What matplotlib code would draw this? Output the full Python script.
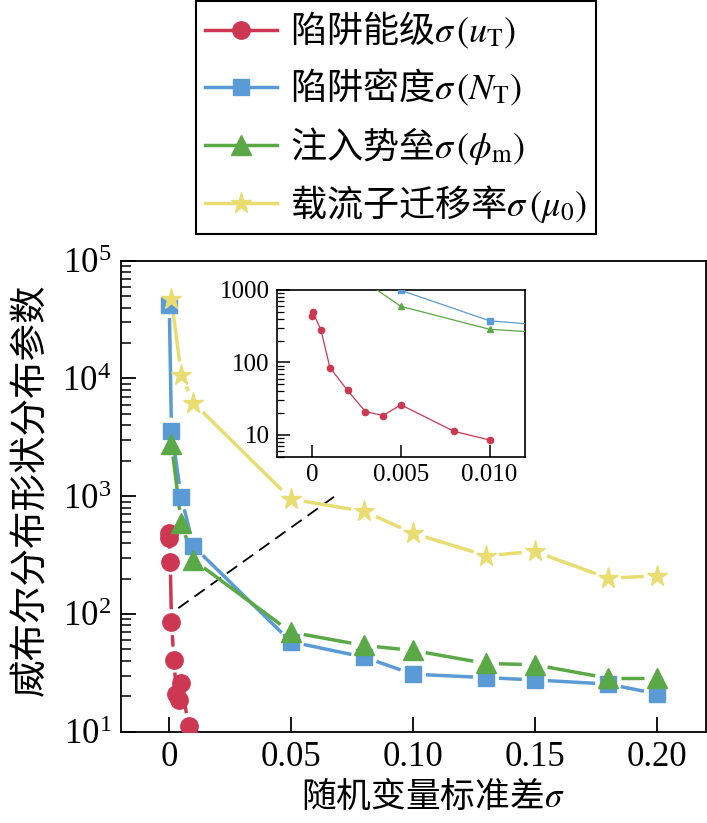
import numpy as np
import matplotlib.pyplot as plt
from matplotlib.lines import Line2D
from matplotlib.ticker import LogLocator, NullFormatter

plt.rcParams['font.family'] = ['Liberation Serif', 'Noto Sans CJK SC']
plt.rcParams['mathtext.fontset'] = 'stix'

# data
x_ut = [0.00001, 0.00005, 0.0005, 0.001, 0.002, 0.003, 0.004, 0.005, 0.008, 0.010]
y_ut = [440, 490, 278, 85, 41, 21, 18.5, 26, 11.2, 8.5]

x_nt = [0.0001, 0.001, 0.005, 0.01, 0.05, 0.08, 0.10, 0.13, 0.15, 0.18, 0.20]
y_nt = [42000, 3600, 990, 376, 58, 43, 30.8, 28.8, 27.5, 25.4, 21]

x_phi = [0.001, 0.005, 0.01, 0.05, 0.08, 0.10, 0.13, 0.15, 0.18, 0.20]
y_phi = [2800, 595, 287, 70, 54, 49, 38, 37, 28.5, 28.5]

x_mu = [0.001, 0.005, 0.01, 0.05, 0.08, 0.10, 0.13, 0.15, 0.18, 0.20]
y_mu = [46900, 10800, 6200, 946, 743, 486, 312, 340, 201, 211]

labels = [r'陷阱能级$\sigma\,(u_{\mathrm{T}})$',
          r'陷阱密度$\sigma\,(N_{\mathrm{T}})$',
          r'注入势垒$\sigma\,(\phi_{\mathrm{m}})$',
          r'载流子迁移率$\sigma\,(\mu_{0})$']
colors = ['#cd3752', '#5b9bd5', '#5aa846', '#e9dd72']
markers = ['o', 's', '^', '*']
msizes = [12.5, 11, 14, 15.5]

main_xticks = [0, 0.05, 0.10, 0.15, 0.20]
main_xticklabels = ['0', '0.05', '0.10', '0.15', '0.20']
inset_xticks = [0, 0.005, 0.010]
inset_xticklabels = ['0', '0.005', '0.010']
inset_yticks = [10, 100, 1000]
inset_yticklabels = ['10', '100', '1000']

# dashed guide line from zoomed region to the inset
guide_x = [0.0038, 0.070]
guide_y = [112, 1070]

series = [(x_ut, y_ut), (x_nt, y_nt), (x_phi, y_phi), (x_mu, y_mu)]
cjk = 'Noto Sans CJK SC'

fig = plt.figure(figsize=(7.07, 8.23), dpi=100)
ax = fig.add_axes([121 / 707, 1 - 731.7 / 823, 585 / 707, 471 / 823])
ax.set_yscale('log')
ax.set_xlim(-0.0197, 0.2202)
ax.set_ylim(10, 1e5)


def gapped_line(ax, xs, ys, color, lw, gap, z):
    # line segments stop short of the symbols, like the original
    pts = ax.transData.transform(np.column_stack([xs, ys]))
    inv = ax.transData.inverted()
    for p0, p1 in zip(pts[:-1], pts[1:]):
        d = p1 - p0
        length = np.hypot(*d)
        if length <= 2 * gap:
            continue
        u = d / length
        seg = inv.transform([p0 + u * gap, p1 - u * gap])
        ax.plot(seg[:, 0], seg[:, 1], color=color, lw=lw, zorder=z,
                solid_capstyle='butt')


for i, (xs, ys) in enumerate(series):
    gapped_line(ax, xs, ys, colors[i], 2.5, 13, 2 + i)
    ax.plot(xs, ys, ls='none', marker=markers[i], ms=msizes[i],
            color=colors[i], mec=colors[i], zorder=6 + i)

ax.plot(guide_x, guide_y, color='black', lw=1.3, ls='--', dashes=(7, 4), zorder=1)

ax.set_xticks(main_xticks, labels=main_xticklabels)
ax.tick_params(which='major', direction='in', length=10.5, width=1.3,
               labelsize=25, pad=7, top=False, right=False)
ax.tick_params(which='minor', direction='in', length=7, width=1.1,
               top=False, right=False)
for s in ax.spines.values():
    s.set_linewidth(1.3)

ax.set_xlabel(r'随机变量标准差$\sigma$', fontsize=25, family=cjk)
ax.xaxis.set_label_coords(0.533, -0.1)
ax.set_ylabel('威布尔分布形状分布参数', fontsize=27)
ax.yaxis.set_label_coords(-0.123, 0.513)

# inset
axin = fig.add_axes([276.7 / 707, 1 - 456.7 / 823, 248.3 / 707, 166.7 / 823])
axin.set_yscale('log')
axin.set_xlim(-0.002, 0.012)
axin.set_ylim(5, 1000)
for i, (xs, ys) in enumerate(series):
    axin.plot(xs, ys, color=colors[i], lw=0.9, marker=markers[i], ms=4.5,
              mec=colors[i], zorder=2 + i)
axin.set_xticks(inset_xticks, labels=inset_xticklabels)
axin.set_yticks(inset_yticks, labels=inset_yticklabels)
axin.yaxis.set_minor_locator(LogLocator(base=10, subs=np.arange(2, 10)))
axin.yaxis.set_minor_formatter(NullFormatter())
axin.tick_params(which='major', direction='in', length=9, width=1.1,
                 labelsize=18, pad=5, top=False, right=False)
axin.tick_params(which='minor', direction='in', length=5, width=0.9,
                 top=False, right=False)
for s in axin.spines.values():
    s.set_linewidth(1.2)

# legend
handles = [Line2D([], [], color=colors[i], lw=2.5, marker=markers[i],
                  ms=msizes[i], mec=colors[i]) for i in range(4)]
leg = fig.legend(handles, labels, loc='upper left',
                 bbox_to_anchor=(196 / 707, 1 - 1 / 823),
                 bbox_transform=fig.transFigure,
                 prop={'family': cjk, 'size': 26},
                 frameon=True, fancybox=False, edgecolor='black',
                 framealpha=1, handlelength=2.0, handletextpad=0.35,
                 labelspacing=0.45, borderpad=0.25, borderaxespad=0)
leg.get_frame().set_linewidth(1.5)

fig.savefig('out.png', dpi=100)
